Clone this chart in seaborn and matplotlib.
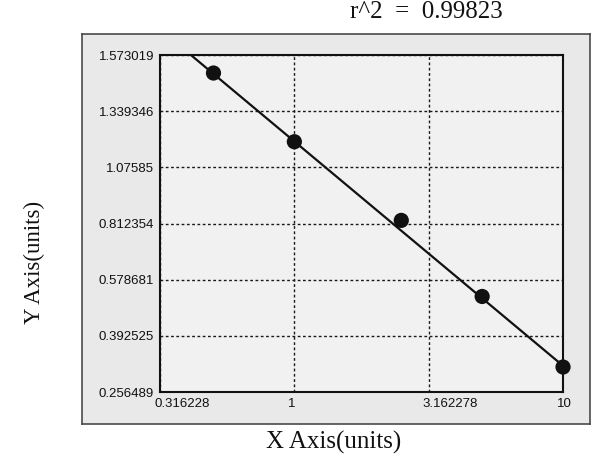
import numpy as np
import pandas as pd
import matplotlib
matplotlib.use("Agg")
import matplotlib.pyplot as plt
from matplotlib.transforms import ScaledTranslation
import seaborn as sns

# ---- data ----
x_points = [0.5, 1.0, 2.5, 5.0, 10.0]
y_points = [1.498, 1.196, 0.827, 0.523, 0.317]
fit_x = [0.412, 10.0]
fit_y = [1.573019, 0.320]
x_ticks = [0.316228, 1.0, 3.162278, 10.0]
x_tick_labels = ["0.316228", "1", "3.162278", "10"]
y_ticks = [0.256489, 0.392525, 0.578681, 0.812354, 1.07585, 1.339346, 1.573019]
y_tick_labels = ["0.256489", "0.392525", "0.578681", "0.812354", "1.07585", "1.339346", "1.573019"]
r2_text = "r^2  =  0.99823"
x_label = "X Axis(units)"
y_label = "Y Axis(units)"

sns.set_style("white")
plt.rcParams["font.family"] = ["Liberation Sans", "DejaVu Sans"]

# y axis: tick values evenly spaced (piecewise-linear scale)
_yt = np.array(y_ticks, float)
_yi = np.arange(len(_yt), dtype=float)

def _fwd(v):
    v = np.asarray(v, float)
    flat = np.atleast_1d(v).ravel()
    out = np.interp(flat, _yt, _yi)
    lo = flat < _yt[0]
    hi = flat > _yt[-1]
    out[lo] = (flat[lo] - _yt[0]) / (_yt[1] - _yt[0])
    out[hi] = _yi[-1] + (flat[hi] - _yt[-1]) / (_yt[-1] - _yt[-2])
    return out.reshape(v.shape)

def _inv(u):
    u = np.asarray(u, float)
    flat = np.atleast_1d(u).ravel()
    out = np.interp(flat, _yi, _yt)
    lo = flat < 0
    hi = flat > _yi[-1]
    out[lo] = _yt[0] + flat[lo] * (_yt[1] - _yt[0])
    out[hi] = _yt[-1] + (flat[hi] - _yi[-1]) * (_yt[-1] - _yt[-2])
    return out.reshape(u.shape)

fig = plt.figure(figsize=(6.0, 4.75), dpi=100)
fig.patch.set_facecolor("white")

# outer panel (background axes)
bg = fig.add_axes([0.1367, 0.1074, 0.8467, 0.8211], zorder=-5)
bg.set_facecolor("#e9e9e9")
bg.set_xticks([])
bg.set_yticks([])
for sp in bg.spines.values():
    sp.set_visible(True)
    sp.set_color("#4a4a4a")
    sp.set_linewidth(1.2)

ax = fig.add_axes([0.2667, 0.1747, 0.6717, 0.7095], zorder=1)
ax.set_facecolor("#f1f1f1")
ax.set_xscale("log")
ax.set_yscale("function", functions=(_fwd, _inv))

df_pts = pd.DataFrame({"x": x_points, "y": y_points})
df_fit = pd.DataFrame({"x": fit_x, "y": fit_y})

sns.lineplot(data=df_fit, x="x", y="y", ax=ax, color="#111111", linewidth=1.6, sort=False, zorder=3)
sns.scatterplot(data=df_pts, x="x", y="y", ax=ax, color="#111111", s=120, edgecolor="none", zorder=4,
                clip_on=False)

ax.set_xlim(x_ticks[0], x_ticks[-1])
ax.set_ylim(y_ticks[0], y_ticks[-1])
ax.set_xticks(x_ticks)
ax.set_xticklabels(x_tick_labels)
ax.xaxis.set_minor_locator(matplotlib.ticker.NullLocator())
ax.set_yticks(y_ticks)
ax.set_yticklabels(y_tick_labels)
ax.yaxis.set_minor_locator(matplotlib.ticker.NullLocator())

ax.grid(True, which="major", color="#1a1a1a", linestyle=(0, (2.0, 1.8)), linewidth=1.0)
ax.tick_params(axis="both", which="major", length=3, width=1.0, color="#1a1a1a",
               labelsize=9.5, labelcolor="#111111", pad=1.2)
ax.set_xlabel("")
ax.set_ylabel("")

for lab in ax.get_xticklabels():
    lab.set_horizontalalignment("left")
    lab.set_transform(lab.get_transform() + ScaledTranslation(-0.06, 0, fig.dpi_scale_trans))

for sp in ax.spines.values():
    sp.set_visible(True)
    sp.set_color("#111111")
    sp.set_linewidth(1.5)

serif = ["Liberation Serif", "DejaVu Serif"]
fig.text(0.710, 0.974, r2_text, family=serif, fontsize=18, ha="center", va="center", color="#111111")
fig.text(0.556, 0.068, x_label, family=serif, fontsize=18, ha="center", va="center", color="#111111")
fig.text(0.058, 0.448, y_label, family=serif, fontsize=16.5, ha="center", va="center",
         rotation=90, color="#111111")

fig.savefig("out.png", dpi=100)
